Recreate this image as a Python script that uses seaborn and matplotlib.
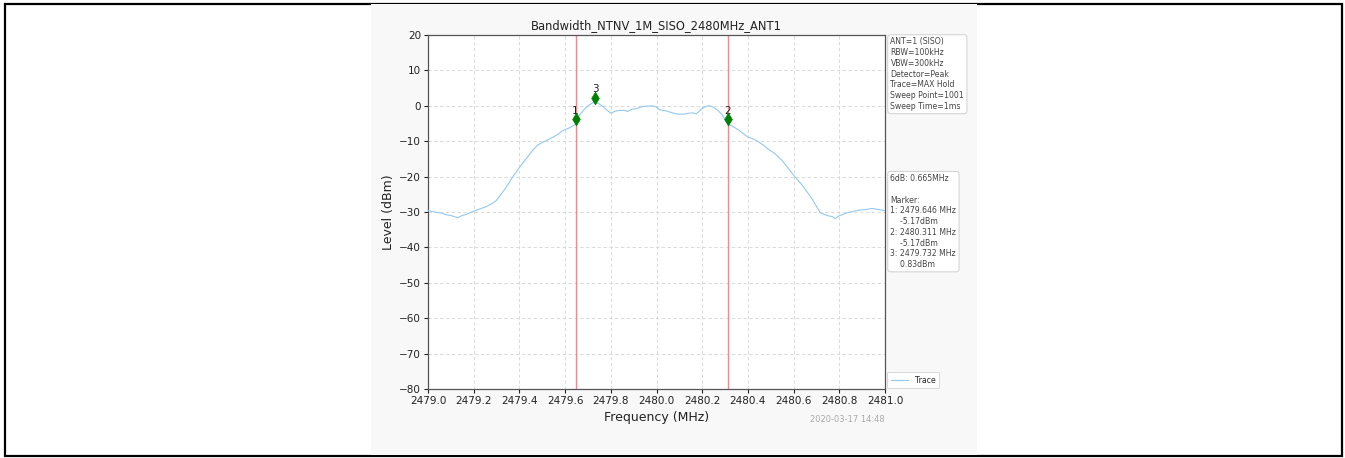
import matplotlib
matplotlib.use("Agg")
import matplotlib.pyplot as plt
import seaborn as sns
import pandas as pd
from matplotlib.patches import Rectangle

# ---------------- data ----------------
freq = [2479.000, 2479.020, 2479.040, 2479.060, 2479.080, 2479.100, 2479.120, 2479.130,
        2479.150, 2479.170, 2479.196, 2479.220, 2479.254, 2479.280, 2479.298, 2479.320,
        2479.342, 2479.370, 2479.400, 2479.429, 2479.458, 2479.480, 2479.502, 2479.525,
        2479.546, 2479.570, 2479.590, 2479.620, 2479.646, 2479.663, 2479.692, 2479.721,
        2479.732, 2479.745, 2479.765, 2479.785, 2479.800, 2479.820, 2479.838, 2479.860,
        2479.874, 2479.890, 2479.911, 2479.935, 2479.955, 2479.984, 2480.000, 2480.013,
        2480.040, 2480.070, 2480.090, 2480.115, 2480.140, 2480.159, 2480.174, 2480.190,
        2480.203, 2480.220, 2480.232, 2480.250, 2480.270, 2480.290, 2480.311, 2480.334,
        2480.363, 2480.380, 2480.400, 2480.425, 2480.447, 2480.470, 2480.490, 2480.520,
        2480.549, 2480.575, 2480.600, 2480.637, 2480.660, 2480.680, 2480.700, 2480.717,
        2480.735, 2480.753, 2480.770, 2480.782, 2480.795, 2480.826, 2480.855, 2480.885,
        2480.915, 2480.943, 2480.970, 2481.000]
level = [-29.6, -29.9, -30.1, -30.3, -30.8, -31.0, -31.4, -31.6,
         -31.0, -30.6, -29.9, -29.3, -28.5, -27.6, -26.8, -25.0,
         -23.0, -20.2, -17.4, -15.0, -12.6, -11.1, -10.3, -9.6,
         -8.9, -8.0, -7.0, -6.2, -5.2, -2.6, -0.4, 0.9,
         0.8, 0.7, -0.2, -1.3, -2.1, -1.5, -1.3, -1.3,
         -1.6, -1.0, -0.8, -0.3, -0.1, 0.0, -0.4, -1.1,
         -1.4, -2.0, -2.3, -2.4, -2.1, -2.0, -2.3, -1.3,
         -0.6, -0.1, 0.0, -0.4, -1.4, -2.7, -5.2, -5.8,
         -7.0, -7.9, -8.8, -9.4, -10.2, -11.2, -12.3, -13.6,
         -15.4, -17.5, -19.6, -22.4, -24.4, -26.2, -28.4, -30.2,
         -30.7, -31.1, -31.3, -31.9, -31.2, -30.4, -29.9, -29.5,
         -29.3, -29.0, -29.3, -29.6]

marker_ids = ["1", "2", "3"]
marker_freq = [2479.646, 2480.311, 2479.732]
marker_level = [-5.17, -5.17, 0.83]

x_ticks = [2479.0, 2479.2, 2479.4, 2479.6, 2479.8, 2480.0, 2480.2, 2480.4, 2480.6, 2480.8, 2481.0]
y_ticks = [-80, -70, -60, -50, -40, -30, -20, -10, 0, 10, 20]

title = "Bandwidth_NTNV_1M_SISO_2480MHz_ANT1"
settings_lines = ["ANT=1 (SISO)", "RBW=100kHz", "VBW=300kHz", "Detector=Peak",
                  "Trace=MAX Hold", "Sweep Point=1001", "Sweep Time=1ms"]
bw_text = "6dB: 0.665MHz"
timestamp = "2020-03-17 14:48"

# ---------------- figure ----------------
W, H = 1345, 458
sns.set_theme(style="whitegrid")
plt.rcParams['font.family'] = ['DejaVu Sans']

fig = plt.figure(figsize=(W / 100, H / 100), dpi=100)
fig.patch.set_facecolor("white")

# outer document frame
fig.add_artist(Rectangle((5 / W, 2 / H), (1342 - 5) / W, (454.5 - 2) / H,
                         transform=fig.transFigure, fill=False, ec="black", lw=1.6, zorder=-2))
# embedded chart image background
fig.add_artist(Rectangle((371 / W, 3 / H), 606 / W, (453.7 - 3) / H,
                         transform=fig.transFigure, fc="#f8f8f8", ec="none", zorder=-1))

ax = fig.add_axes([428 / W, (H - 389) / H, 457 / W, 354 / H])
ax.set_facecolor("white")

df = pd.DataFrame({"Frequency": freq, "Level": level})
sns.lineplot(data=df, x="Frequency", y="Level", ax=ax, color="#92c9f0", lw=0.8,
             label="Trace", zorder=3)

# marker lines (markers 1 and 2)
for f in marker_freq[:2]:
    ax.axvline(f, color="#f08a8a", lw=1.0, zorder=2)

mk = pd.DataFrame({"f": marker_freq, "L": [v + 1.4 for v in marker_level]})
sns.scatterplot(data=mk, x="f", y="L", ax=ax, marker="d", color="green", s=42,
                edgecolor="green", linewidth=0.5, zorder=5, legend=False)
for mid, f, v in zip(marker_ids, marker_freq, marker_level):
    ax.annotate(mid, (f, v + 1.4), xytext=(0, 2.5), textcoords="offset points",
                ha="center", va="bottom", fontsize=7.5, color="#222222")

ax.set_xlim(2479.0, 2481.0)
ax.set_ylim(-80, 20)
ax.set_xticks(x_ticks)
ax.set_xticklabels([f"{t:.1f}" for t in x_ticks])
ax.set_yticks(y_ticks)
ax.tick_params(axis="both", labelsize=7.5, colors="#222222", length=3, width=0.8,
               direction="out", bottom=True, left=True, pad=2)
ax.grid(True, color="#d4d4d4", ls=(0, (4, 3)), lw=0.6)
for s in ax.spines.values():
    s.set_color("#555555")
    s.set_linewidth(0.9)

ax.set_title(title, fontsize=8.3, pad=4.5, color="#222222")
ax.set_xlabel("Frequency (MHz)", fontsize=9, labelpad=4, color="#222222")
ax.set_ylabel("Level (dBm)", fontsize=9, labelpad=3, color="#222222")

box = dict(boxstyle="round,pad=0.35", fc="white", ec="#d0d0d0", lw=0.7)
ax.text(1.012, 0.993, "\n".join(settings_lines), transform=ax.transAxes, ha="left", va="top",
        fontsize=5.6, color="#444444", bbox=box, linespacing=1.25)

marker_lines = [bw_text, "", "Marker:"]
for mid, f, v in zip(marker_ids, marker_freq, marker_level):
    marker_lines.append(f"{mid}: {f:.3f} MHz")
    marker_lines.append(f"    {v:.2f}dBm")
ax.text(1.012, 0.607, "\n".join(marker_lines), transform=ax.transAxes, ha="left", va="top",
        fontsize=5.6, color="#444444", bbox=box, linespacing=1.25)

leg = ax.legend(loc="lower left", bbox_to_anchor=(1.0, -0.005), fontsize=5.6, frameon=True,
                fancybox=True, handlelength=2.2, borderpad=0.5, borderaxespad=0.3)
leg.get_frame().set_edgecolor("#d0d0d0")
leg.get_frame().set_linewidth(0.7)

fig.text(885 / W, (H - 420) / H, timestamp, ha="right", va="center", fontsize=6,
         color="#aaaaaa")

fig.savefig("out.png", dpi=100, facecolor="white")
